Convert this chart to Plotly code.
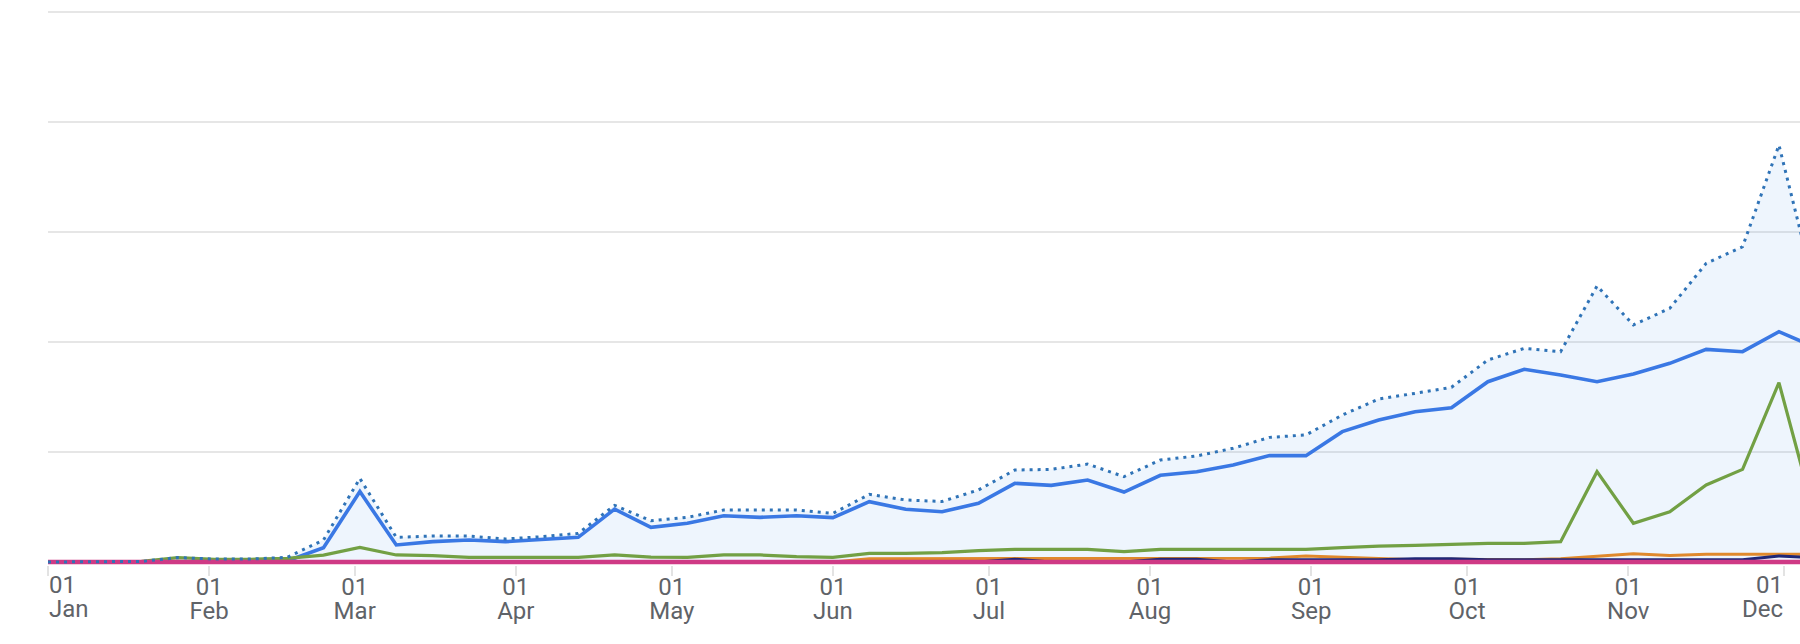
import plotly.graph_objects as go

# ---- data ----
dates = [
    "2023-01-01", "2023-01-05", "2023-01-12", "2023-01-19", "2023-01-26",
    "2023-02-02", "2023-02-09", "2023-02-16", "2023-02-23", "2023-03-02",
    "2023-03-09", "2023-03-16", "2023-03-23", "2023-03-30", "2023-04-06",
    "2023-04-13", "2023-04-20", "2023-04-27", "2023-05-04", "2023-05-11",
    "2023-05-18", "2023-05-25", "2023-06-01", "2023-06-08", "2023-06-15",
    "2023-06-22", "2023-06-29", "2023-07-06", "2023-07-13", "2023-07-20",
    "2023-07-27", "2023-08-03", "2023-08-10", "2023-08-17", "2023-08-24",
    "2023-08-31", "2023-09-07", "2023-09-14", "2023-09-21", "2023-09-28",
    "2023-10-05", "2023-10-12", "2023-10-19", "2023-10-26", "2023-11-02",
    "2023-11-09", "2023-11-16", "2023-11-23", "2023-11-30", "2023-12-07",
]

total = [
    0, 0, 0, 0.5, 4, 2.7, 2.7, 4.2, 20, 76,
    22.4, 23.6, 23.6, 20.9, 23, 26, 51.5, 37.5, 40.6, 47.3,
    47.3, 47.3, 44.2, 61.5, 56.4, 55, 65.5, 83.6, 84.2, 89,
    77.6, 92.7, 96.4, 103.4, 113.3, 115.5, 133.6, 148.2, 153.3, 158.8,
    183.6, 194.2, 191.2, 250.9, 215.5, 230.6, 271.5, 286.6, 379, 246,
]

series_blue = [
    0, 0, 0, 0, 0, 0, 0, 1, 13, 64,
    15.5, 18.5, 20, 18.5, 20.3, 22.4, 48, 31.5, 35.2, 42.1,
    40.6, 42.1, 40.3, 54.8, 47.9, 45.7, 53.3, 71.5, 69.7, 74.5,
    63.6, 78.8, 82.1, 88.2, 96.7, 96.7, 118.5, 129, 136.6, 140.3,
    163.9, 175.2, 170, 163.9, 170.9, 180.6, 193.3, 191.2, 209.4, 195,
]

series_green = [
    0, 0, 0, 0.5, 4, 2.5, 2.5, 3.3, 6.3, 13.3,
    6.4, 5.8, 4.2, 4.2, 4.2, 4.2, 6.4, 4.5, 4.2, 6.4,
    6.4, 4.8, 4.2, 7.9, 7.9, 8.5, 10.3, 11.5, 11.5, 11.5,
    9.4, 11.5, 11.5, 11.5, 11.5, 11.5, 13, 14.5, 15.2, 16.4,
    17, 17, 18.5, 82.1, 35.2, 45.7, 70, 84.2, 163, 40,
]

series_orange = [
    0, 0, 0, 0, 0, 0, 0, 0, 0, 0,
    0, 0, 0, 0, 0, 0, 0, 0, 0, 0,
    0, 0, 0, 3, 3, 3, 3, 3, 3, 3,
    3, 3, 3, 3, 3.5, 5.5, 4.5, 3, 2, 2.5,
    2, 2, 3, 5, 7.5, 6, 7, 7, 7, 7,
]

series_navy = [
    0, 0, 0, 0, 0, 0, 0, 0, 0, 0,
    0, 0, 0, 0, 0, 0, 0, 0, 0, 0,
    0, 0, 0, 0, 0, 0, 0, 2.5, 0, 0,
    0, 2.5, 2.5, 0, 2, 2, 2, 2, 3, 3,
    2, 2, 2, 2, 2, 2, 2, 2, 5.5, 4,
]

series_pink = [
    0, 0, 0, 0, 0, 0, 0, 0, 0, 0,
    0, 0, 0, 0, 0, 0, 0, 0, 0, 0,
    0, 0, 0, 0, 0, 0, 0, 0, 0, 0,
    0, 0, 0, 0, 0, 0, 0, 0, 0, 0,
    0, 0, 0, 0, 0, 0, 0, 0, 0, 0,
]

month_ticks = [
    "2023-01-01", "2023-02-01", "2023-03-01", "2023-04-01", "2023-05-01",
    "2023-06-01", "2023-07-01", "2023-08-01", "2023-09-01", "2023-10-01",
    "2023-11-01", "2023-12-01",
]
day_labels = ["01", "01", "01", "01", "01", "01", "01", "01", "01", "01", "01", "01"]
month_labels = ["Jan", "Feb", "Mar", "Apr", "May", "Jun", "Jul", "Aug", "Sep", "Oct", "Nov", "Dec"]

x_range = ["2023-01-01", "2023-12-04 01:12"]
y_range = [-2.727, 502.727]
grid_vals = [0, 100, 200, 300, 400, 500]

FONT = "Roboto"
LABEL_COLOR = "#5f6368"
LABEL_SIZE = 24

fig = go.Figure()

# light fill under the total
fig.add_trace(go.Scatter(x=dates, y=total, mode="lines", line=dict(width=0, color="rgba(0,0,0,0)"),
                         fill="tozeroy", fillcolor="rgba(66,140,230,0.09)", hoverinfo="skip",
                         showlegend=False))
fig.add_trace(go.Scatter(x=dates, y=series_blue, mode="lines",
                         line=dict(color="#3a78e4", width=3.6), showlegend=False))
fig.add_trace(go.Scatter(x=dates, y=series_green, mode="lines",
                         line=dict(color="#72a044", width=3.2), showlegend=False))
fig.add_trace(go.Scatter(x=dates, y=series_orange, mode="lines",
                         line=dict(color="#e0892c", width=3), showlegend=False))
fig.add_trace(go.Scatter(x=dates, y=series_navy, mode="lines",
                         line=dict(color="#1f2777", width=3), showlegend=False))
fig.add_trace(go.Scatter(x=dates, y=series_pink, mode="lines",
                         line=dict(color="#cf3a85", width=4.5), showlegend=False))
fig.add_trace(go.Scatter(x=dates, y=total, mode="lines",
                         line=dict(color="#2f73b7", width=3, dash="3px,5px"), showlegend=False))
# reference for the secondary (month-name) axis
fig.add_trace(go.Scatter(x=[], y=[], xaxis="x2", showlegend=False, hoverinfo="skip"))

inner_day = [("" if i in (0, len(day_labels) - 1) else t) for i, t in enumerate(day_labels)]
inner_month = [("" if i in (0, len(month_labels) - 1) else t) for i, t in enumerate(month_labels)]

fig.update_layout(
    width=1800, height=644,
    margin=dict(l=48, r=0, t=9, b=79, pad=0),
    paper_bgcolor="white", plot_bgcolor="white",
    font=dict(family=FONT, size=LABEL_SIZE, color=LABEL_COLOR),
    xaxis=dict(
        type="date", range=x_range, tickmode="array", tickvals=month_ticks, ticktext=inner_day,
        ticks="outside", ticklen=10, tickwidth=2, tickcolor="#e3e3e3",
        ticklabelstandoff=-10,
        showgrid=False, zeroline=False, showline=False,
        tickfont=dict(family=FONT, size=LABEL_SIZE, color=LABEL_COLOR),
    ),
    xaxis2=dict(
        type="date", range=x_range, overlaying="x", anchor="y", side="bottom",
        tickmode="array", tickvals=month_ticks, ticktext=inner_month,
        ticks="outside", ticklen=10, tickwidth=0, tickcolor="rgba(0,0,0,0)",
        ticklabelstandoff=14,
        showgrid=False, zeroline=False, showline=False,
        tickfont=dict(family=FONT, size=LABEL_SIZE, color=LABEL_COLOR),
    ),
    yaxis=dict(
        range=y_range, tickmode="array", tickvals=grid_vals, showticklabels=False,
        showgrid=True, gridcolor="#e6e6e6", gridwidth=2, zeroline=False, showline=False,
    ),
)

# edge labels (kept inside the plot edges like the original)
edge = [(month_ticks[0], day_labels[0], month_labels[0], "left"),
        (month_ticks[-1], day_labels[-1], month_labels[-1], "right")]
for xv, dtxt, mtxt, anchor in edge:
    fig.add_annotation(x=xv, xref="x", y=0, yref="paper", yanchor="top", xanchor=anchor,
                       text=dtxt, showarrow=False, yshift=-5, borderpad=0,
                       font=dict(family=FONT, size=LABEL_SIZE, color=LABEL_COLOR))
    fig.add_annotation(x=xv, xref="x", y=0, yref="paper", yanchor="top", xanchor=anchor,
                       text=mtxt, showarrow=False, yshift=-29, borderpad=0,
                       font=dict(family=FONT, size=LABEL_SIZE, color=LABEL_COLOR))

fig.write_html("out.html", config={"displayModeBar": False},
               post_script="document.body.style.margin='0px';")
